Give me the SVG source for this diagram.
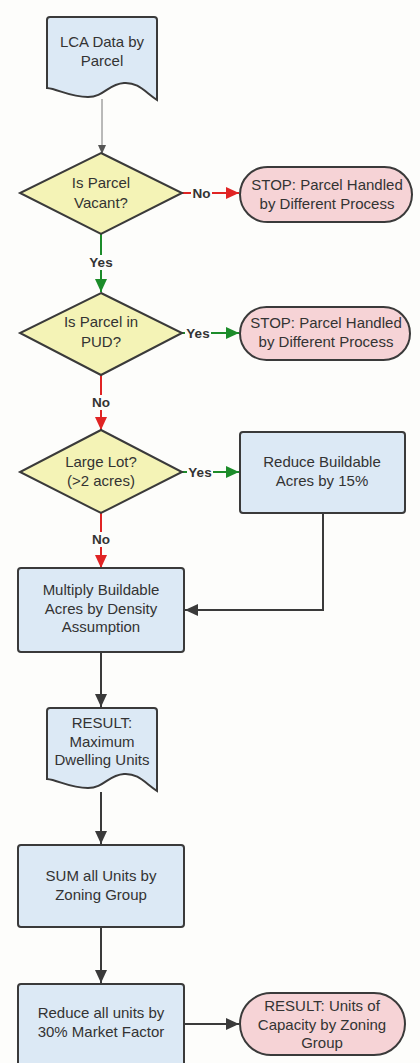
<svg xmlns="http://www.w3.org/2000/svg" width="420" height="1063" viewBox="0 0 420 1063">
<defs>
<style>
text{font-family:"Liberation Sans",Arial,sans-serif;font-size:15px;fill:#333;text-anchor:middle}
.box{fill:#dce9f5;stroke:#3a3a3a;stroke-width:2}
.dia{fill:#f4f3b6;stroke:#3a3a3a;stroke-width:2}
.term{fill:#f6d3d6;stroke:#3a3a3a;stroke-width:2}
.lbl{font-size:13.5px;font-weight:bold;fill:#333}
.red{stroke:#e02424;stroke-width:2;fill:none}
.grn{stroke:#1c8c2a;stroke-width:2;fill:none}
.dk{stroke:#3a3a3a;stroke-width:2;fill:none}
.gr{stroke:#777;stroke-width:1;fill:none}
.bg{fill:#fdfdfb}
</style>
<marker id="aR" markerUnits="userSpaceOnUse" markerWidth="14" markerHeight="12" refX="13" refY="6" orient="auto"><path d="M0,0 L13,6 L0,12 z" fill="#e02424"/></marker>
<marker id="aG" markerUnits="userSpaceOnUse" markerWidth="14" markerHeight="12" refX="13" refY="6" orient="auto"><path d="M0,0 L13,6 L0,12 z" fill="#1c8c2a"/></marker>
<marker id="aD" markerUnits="userSpaceOnUse" markerWidth="14" markerHeight="12" refX="13" refY="6" orient="auto"><path d="M0,0 L13,6 L0,12 z" fill="#3a3a3a"/></marker>
<marker id="aS" markerUnits="userSpaceOnUse" markerWidth="10" markerHeight="8" refX="9" refY="4" orient="auto"><path d="M0,0 L9,4 L0,8 z" fill="#555"/></marker>
<path id="doc" d="M50,17 L154,17 Q157,17 157,20 L157,100 C145,92 138,82 124,83 C108,84 104,97 88,97 C70,97 58,89 47,88 L47,20 Q47,17 50,17 Z"/>
</defs>
<rect width="420" height="1063" fill="#fdfdfb"/>

<g id="connectors">
<path class="gr" d="M102,99 V154" marker-end="url(#aS)"/>
<path class="red" d="M182,193 H239" marker-end="url(#aR)"/>
<path class="grn" d="M101,234 V292" marker-end="url(#aG)"/>
<path class="grn" d="M182,333 H239" marker-end="url(#aG)"/>
<path class="red" d="M101,375 V430" marker-end="url(#aR)"/>
<path class="grn" d="M182,472 H239" marker-end="url(#aG)"/>
<path class="red" d="M101,513 V568" marker-end="url(#aR)"/>
<path class="dk" d="M323,513 V610 H185" marker-end="url(#aD)"/>
<path class="dk" d="M101,652 V707" marker-end="url(#aD)"/>
<path class="dk" d="M101,792 V844" marker-end="url(#aD)"/>
<path class="dk" d="M101,927 V983" marker-end="url(#aD)"/>
<path class="dk" d="M184,1024 H239" marker-end="url(#aD)"/>
<rect class="bg" x="191" y="186" width="21" height="15"/>
<text class="lbl" x="201.5" y="198">No</text>
<rect class="bg" x="88" y="255" width="26" height="15"/>
<text class="lbl" x="101" y="267">Yes</text>
<rect class="bg" x="185" y="326" width="26" height="15"/>
<text class="lbl" x="198" y="338">Yes</text>
<rect class="bg" x="90" y="395" width="22" height="15"/>
<text class="lbl" x="101" y="407">No</text>
<rect class="bg" x="187" y="465" width="26" height="15"/>
<text class="lbl" x="200" y="477">Yes</text>
<rect class="bg" x="90" y="532" width="22" height="15"/>
<text class="lbl" x="101" y="544">No</text>
</g>

<g id="n-lca">
<use href="#doc" class="box"/>
<text x="102" y="47">LCA Data by</text>
<text x="102" y="66">Parcel</text>
</g>

<g id="n-vacant">
<polygon class="dia" points="101,153 182,193 101,234 20,193"/>
<text x="101" y="188">Is Parcel</text>
<text x="101" y="208">Vacant?</text>
</g>

<g id="n-stop1">
<rect class="term" x="240" y="167" width="172" height="55" rx="27.5"/>
<text x="327" y="190">STOP: Parcel Handled</text>
<text x="327" y="209">by Different Process</text>
</g>

<g id="n-pud">
<polygon class="dia" points="101,293 182,333 101,375 20,333"/>
<text x="101" y="327">Is Parcel in</text>
<text x="101" y="347">PUD?</text>
</g>

<g id="n-stop2">
<rect class="term" x="240" y="307" width="170" height="53" rx="26.5"/>
<text x="326" y="328">STOP: Parcel Handled</text>
<text x="326" y="347">by Different Process</text>
</g>

<g id="n-large">
<polygon class="dia" points="101,430 182,472 101,513 20,472"/>
<text x="101" y="467">Large Lot?</text>
<text x="101" y="486">(&gt;2 acres)</text>
</g>

<g id="n-reduce15">
<rect class="box" x="240" y="432" width="165" height="81" rx="3"/>
<text x="322" y="467">Reduce Buildable</text>
<text x="322" y="486">Acres by 15%</text>
</g>

<g id="n-multiply">
<rect class="box" x="18" y="568" width="166" height="84" rx="3"/>
<text x="101" y="595">Multiply Buildable</text>
<text x="101" y="614">Acres by Density</text>
<text x="101" y="632">Assumption</text>
</g>

<g id="n-result-max">
<use href="#doc" class="box" transform="translate(0,691)"/>
<text x="102" y="728">RESULT:</text>
<text x="102" y="747">Maximum</text>
<text x="102" y="765">Dwelling Units</text>
</g>

<g id="n-sum">
<rect class="box" x="18" y="845" width="166" height="82" rx="3"/>
<text x="101" y="881">SUM all Units by</text>
<text x="101" y="900">Zoning Group</text>
</g>

<g id="n-reduce30">
<rect class="box" x="18" y="984" width="166" height="90" rx="3"/>
<text x="101" y="1018">Reduce all units by</text>
<text x="101" y="1037">30% Market Factor</text>
</g>

<g id="n-result-cap">
<rect class="term" x="240" y="993" width="165" height="62" rx="31"/>
<text x="322" y="1011">RESULT: Units of</text>
<text x="322" y="1030">Capacity by Zoning</text>
<text x="322" y="1048">Group</text>
</g>
</svg>
